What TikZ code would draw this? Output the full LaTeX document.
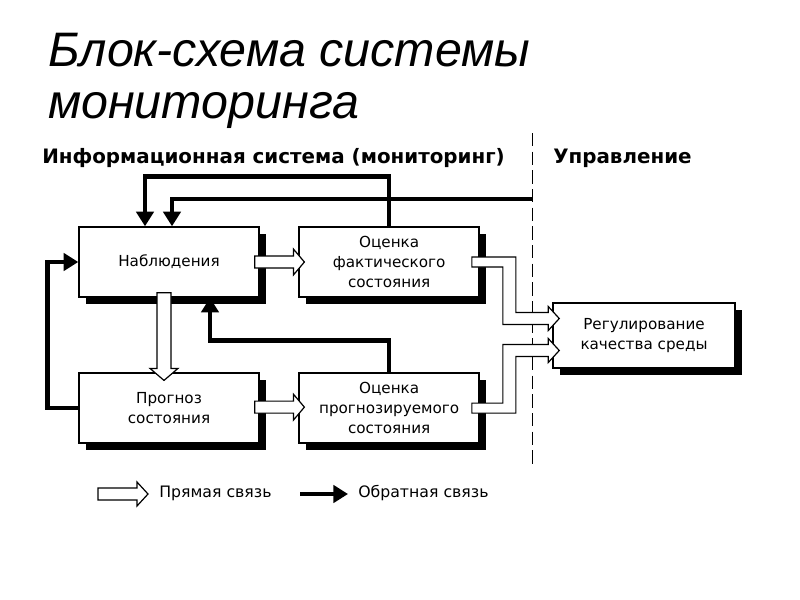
\documentclass[tikz,border=0pt]{standalone}
\usepackage{fontspec}
\setmainfont{DejaVu Sans}
\newfontfamily\titlefont{Liberation Sans}
\usetikzlibrary{arrows.meta,positioning,shadows,calc}

\tikzset{
  blok/.style={draw, line width=1.1pt, fill=white, align=center,
    minimum width=135pt, minimum height=52.5pt,
    font=\fontsize{11.4}{15}\selectfont,
    drop shadow={shadow xshift=5pt, shadow yshift=-5pt, opacity=1, fill=black}},
  pryam/.style={draw, line width=0.9pt, fill=white},
  obr/.style={->, line width=3.5pt},
  zagolovok/.style={anchor=base west, inner sep=0pt, font=\bfseries\fontsize{14.9}{18}\selectfont},
  titul/.style={anchor=base west, inner sep=0pt, font=\titlefont\itshape\fontsize{36.3}{40}\selectfont},
  podpis/.style={anchor=west, inner sep=0pt, font=\fontsize{11.8}{15}\selectfont}
}

\begin{document}
\begin{tikzpicture}[x=0.75pt, y=-0.75pt, >={Triangle[width=13pt,length=11pt]}]
  \useasboundingbox (0,0) rectangle (800,600);

  % title and headers
  \node[titul] (tit1) at (48,66) {Блок-схема системы};
  \node[titul] (tit2) at (48,118) {мониторинга};
  \node[zagolovok] (info) at (42,163) {Информационная система (мониторинг)};
  \node[zagolovok] (upravl) at (553,163) {Управление};

  \coordinate (gr1) at (532,133);
  \coordinate (gr2) at (532,465);
  \draw[line width=0.7pt, dash pattern=on 10pt off 4pt] (gr1) -- (gr2);

  % blocks
  \node[blok] (nab) at (169,262) {Наблюдения};
  \node[blok, right=29pt of nab] (ocf) {Оценка\\фактического\\состояния};
  \node[blok, below=56pt of nab] (prog) {Прогноз\\состояния};
  \node[blok, below=56pt of ocf] (ocp) {Оценка\\прогнозируемого\\состояния};
  \node[blok, minimum width=136.5pt, minimum height=48.75pt] (reg) at (644,335.5) {Регулирование\\качества среды};

  % feedback
  \coordinate (upr) at (532,199);
  \draw[obr] (ocf.north) -- ++(0,-50) -| ($(nab.north)+(-24,0)$);
  \draw[obr] (upr) -| ($(nab.north)+(3,0)$);
  \draw[obr] (prog.west) -- ++(-31,0) |- (nab.west);
  \draw[obr] (ocp.north) -- ++(0,-32) -| ($(nab.south)+(41,0)$);

  % direct links
  \draw[pryam] ($(nab.east)+(-5,-6)$) -- ($(ocf.west)+(-5,-6)$) -- ++(0,-7) -- ($(ocf.west)+(6,0)$)
    -- ($(ocf.west)+(-5,13)$) -- ++(0,-7) -- ($(nab.east)+(-5,6)$) -- cycle;
  \draw[pryam] ($(prog.east)+(-5,-7)$) -- ($(ocp.west)+(-5,-7)$) -- ++(0,-7) -- ($(ocp.west)+(6,-1)$)
    -- ($(ocp.west)+(-5,12)$) -- ++(0,-7) -- ($(prog.east)+(-5,5)$) -- cycle;
  \draw[pryam] ($(nab.south)+(-12,-5)$) -- ($(prog.north)+(-12,-4)$) -- ++(-7,0) -- ($(prog.north)+(-5,8)$)
    -- ($(prog.north)+(9,-4)$) -- ++(-7,0) -- ($(nab.south)+(2,-5)$) -- cycle;

  \coordinate (t1) at ($(reg.west)+(7,-17)$);
  \coordinate (t2) at ($(reg.west)+(7,15)$);
  \draw[pryam] ($(ocf.east)+(-8,-5)$) -- ($(ocf.east)+(36,-5)$) |- ($(t1)+(-11,-6)$) -- ++(0,-6) -- (t1)
    -- ++(-11,12) -- ++(0,-6) -| ($(ocf.east)+(23,5)$) -- ($(ocf.east)+(-8,5)$) -- cycle;
  \draw[pryam] ($(ocp.east)+(-8,-5)$) -- ($(ocp.east)+(23,-5)$) |- ($(t2)+(-11,-6)$) -- ++(0,-6) -- (t2)
    -- ++(-11,12) -- ++(0,-6) -| ($(ocp.east)+(36,5)$) -- ($(ocp.east)+(-8,5)$) -- cycle;

  % legend
  \coordinate (l1) at (98,494);
  \coordinate (l2) at (148,494);
  \coordinate (l3) at (300,494);
  \coordinate (l4) at (348,494);
  \draw[pryam] ($(l1)+(0,-6)$) -- ($(l2)+(-11,-6)$) -- ++(0,-6) -- (l2) -- ++(-11,12) -- ++(0,-6)
    -- ($(l1)+(0,6)$) -- cycle;
  \node[podpis] (pr) at (159,493) {Прямая связь};
  \draw[obr] (l3) -- (l4);
  \node[podpis] (ob) at (358,493) {Обратная связь};

\end{tikzpicture}
\end{document}
